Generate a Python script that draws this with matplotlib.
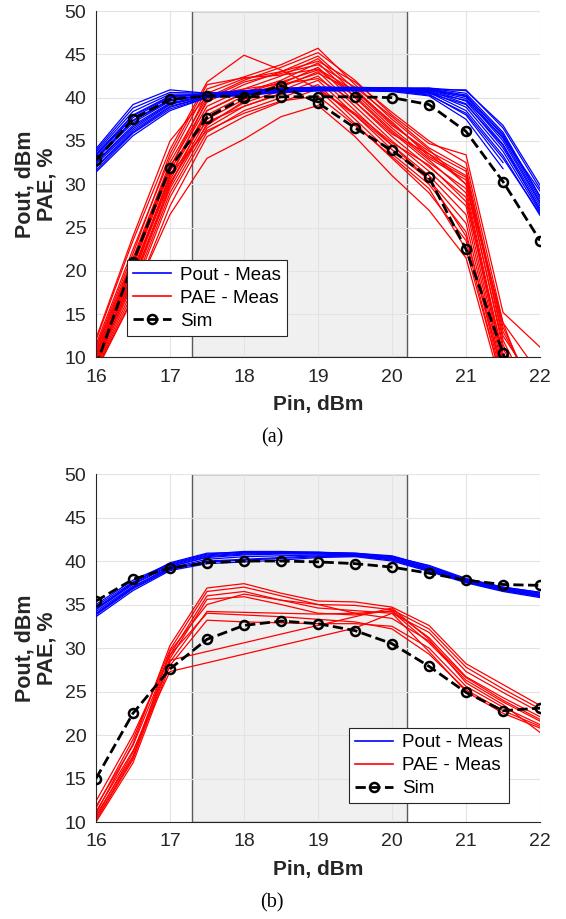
import numpy as np
import matplotlib.pyplot as plt
from matplotlib.lines import Line2D

plt.rcParams['font.family'] = ['Liberation Sans', 'DejaVu Sans']

nan = float('nan')
pin_dbm = [16, 16.5, 17, 17.5, 18, 18.5, 19, 19.5, 20, 20.5, 21, 21.5, 22]
band = (17.3, 20.2)

# ---- panel (a) ----
pout_sim_a = [32.8, 37.5, 39.8, 40.2, 40.1, 40.1, 40.1, 40.1, 40.0, 39.2, 36.1, 30.3, 23.5]
pae_sim_a = [9.0, 21.0, 31.9, 37.7, 40.0, 41.4, 39.4, 36.5, 33.9, 30.8, 22.5, 10.5, -2.0]

pout_meas_a = [
    [31.4, 35.6, 38.5, 40.0, 40.3, 40.6, 40.8, 40.8, 40.7, 40.2, 37.5, 31.8, nan],
    [31.9, 36.0, 38.9, 40.1, 40.4, 40.7, 40.9, 40.9, 40.8, 40.4, 38.0, 32.5, nan],
    [32.3, 36.4, 39.2, 40.2, 40.5, 40.8, 41.0, 40.9, 40.9, 40.6, 38.5, 33.3, 26.4],
    [32.6, 36.8, 39.4, 40.2, 40.5, 40.8, 41.0, 41.0, 40.9, 40.7, 38.9, 33.8, 26.8],
    [32.9, 37.1, 39.6, 40.3, 40.6, 40.9, 41.0, 41.0, 41.0, 40.8, 39.3, 34.2, 27.2],
    [33.1, 37.4, 39.8, 40.3, 40.6, 40.9, 41.1, 41.0, 41.0, 40.9, 39.6, 34.6, 27.5],
    [33.3, 37.7, 40.0, 40.4, 40.7, 41.0, 41.1, 41.1, 41.0, 40.9, 39.9, 35.0, 27.8],
    [33.5, 38.0, 40.2, 40.4, 40.7, 41.0, 41.1, 41.1, 41.1, 41.0, 40.1, 35.3, 28.0],
    [33.7, 38.4, 40.4, 40.4, 40.7, 41.0, 41.2, 41.1, 41.1, 41.0, 40.3, 35.6, 28.3],
    [33.9, 38.8, 40.6, 40.5, 40.8, 41.0, 41.2, 41.1, 41.1, 41.1, 40.5, 36.0, 28.6],
    [34.1, 39.2, 40.9, 40.5, 40.8, 41.1, 41.2, 41.2, 41.1, 41.1, 40.8, 36.8, 29.9],
    [32.0, 36.2, 39.0, 40.1, 40.4, 40.7, 40.9, 40.9, 40.9, 40.5, 39.2, 34.5, 27.0],
    [33.0, 37.3, 39.7, 40.3, 40.6, 40.9, 41.0, 41.0, 41.0, 40.8, 40.2, 35.8, 28.6],
    [32.5, 36.6, 39.3, 40.2, 40.5, 40.8, 41.0, 41.0, 40.9, 40.6, 39.7, 35.4, 29.2],
    [33.4, 37.9, 40.1, 40.4, 40.7, 41.0, 41.1, 41.1, 41.1, 40.9, 40.9, 36.5, 29.5],
    [31.6, 35.9, 38.7, 40.0, 40.3, 40.6, 40.8, 40.8, 40.8, 40.3, 38.2, 33.0, 26.6],
]

pae_meas_a = [
    [8.5, 17.0, 26.5, 33.0, 35.2, 37.8, 39.1, 35.5, 31.0, 27.0, 21.5, 6.0, -4.0],
    [12.0, 23.5, 34.0, 41.8, 44.9, 43.2, 41.0, 38.0, 34.5, 30.5, 24.0, 8.0, -2.0],
    [11.5, 22.5, 33.0, 41.0, 42.4, 43.8, 45.7, 41.5, 37.5, 34.0, 30.0, 14.0, 3.0],
    [11.0, 21.5, 32.5, 40.0, 42.0, 43.5, 45.2, 42.0, 38.0, 34.7, 33.4, 15.2, 11.2],
    [10.5, 21.0, 32.0, 39.5, 41.5, 43.0, 44.8, 41.0, 37.0, 33.5, 31.0, 12.5, 6.0],
    [10.0, 20.5, 31.5, 39.0, 41.0, 42.5, 44.5, 40.5, 36.5, 33.0, 30.5, 11.0, 4.0],
    [9.8, 20.0, 31.0, 38.5, 40.6, 42.0, 44.0, 40.0, 36.0, 32.5, 29.5, 10.0, 1.0],
    [9.5, 19.5, 30.5, 38.0, 40.2, 41.6, 43.5, 39.5, 35.5, 32.0, 28.5, 9.0, 0.0],
    [9.2, 19.0, 30.0, 37.5, 39.8, 41.2, 43.0, 39.0, 35.0, 31.5, 27.5, 8.5, 2.0],
    [9.0, 18.5, 29.5, 37.0, 39.4, 40.8, 42.5, 38.5, 34.5, 31.0, 26.5, 8.0, -1.0],
    [8.8, 18.0, 29.0, 36.5, 39.0, 40.4, 42.0, 38.0, 34.0, 30.5, 25.5, 7.5, -3.0],
    [8.6, 17.5, 28.5, 36.0, 38.5, 40.0, 41.5, 37.5, 33.5, 30.0, 24.5, 7.0, -2.0],
    [10.2, 20.8, 31.8, 40.5, 42.2, 43.0, 44.2, 41.8, 38.3, 35.0, 32.5, 14.0, 8.0],
    [9.6, 19.8, 30.8, 39.8, 41.8, 42.8, 43.8, 41.2, 37.8, 34.2, 31.8, 13.0, 5.0],
    [11.2, 22.0, 33.5, 41.5, 42.3, 42.6, 43.3, 40.8, 36.8, 33.8, 31.5, 12.0, 3.5],
    [12.2, 24.0, 35.0, 40.2, 41.0, 41.6, 42.2, 39.5, 35.8, 33.5, 30.0, 11.5, 2.5],
    [8.4, 16.8, 27.5, 35.5, 37.8, 39.5, 41.0, 37.0, 33.0, 29.0, 23.5, 6.5, -3.5],
    [9.4, 18.8, 29.8, 38.5, 40.5, 41.8, 43.2, 40.2, 36.2, 32.8, 29.0, 9.5, 1.5],
    [10.8, 21.2, 32.2, 37.2, 39.0, 40.5, 41.0, 38.2, 34.8, 32.2, 28.0, 10.5, 2.8],
    [9.7, 19.2, 31.2, 36.2, 38.2, 39.6, 40.2, 36.8, 33.2, 29.5, 22.5, 6.8, -1.5],
    [10.4, 20.2, 30.2, 36.8, 39.6, 41.4, 42.8, 40.8, 37.2, 33.2, 30.8, 13.5, 4.5],
]

# ---- panel (b) ----
pout_sim_b = [35.4, 37.9, 39.2, 39.8, 40.0, 40.0, 39.9, 39.7, 39.3, 38.6, 37.8, 37.3, 37.2]
pae_sim_b = [15.0, 22.5, 27.6, 31.0, 32.6, 33.1, 32.8, 32.0, 30.5, 27.9, 24.9, 22.8, 23.1]

pout_meas_b = [
    [33.6, 36.6, 38.9, 39.7, 39.9, 40.1, 40.4, 40.5, 40.0, 38.8, 37.5, 36.5, 35.8],
    [33.9, 36.9, 39.1, 40.0, 40.2, 40.4, 40.6, 40.6, 40.1, 38.9, 37.6, 36.6, 35.9],
    [34.2, 37.1, 39.2, 40.2, 40.5, 40.6, 40.7, 40.6, 40.2, 39.0, 37.6, 36.7, 36.0],
    [34.4, 37.3, 39.4, 40.4, 40.7, 40.8, 40.8, 40.7, 40.3, 39.1, 37.7, 36.8, 36.1],
    [34.6, 37.4, 39.5, 40.6, 40.9, 40.9, 40.9, 40.8, 40.4, 39.2, 37.8, 36.9, 36.2],
    [34.8, 37.6, 39.6, 40.7, 41.0, 41.0, 41.0, 40.8, 40.5, 39.3, 37.8, 36.9, 36.3],
    [35.0, 37.8, 39.7, 40.8, 41.1, 41.1, 41.0, 40.9, 40.6, 39.4, 37.9, 37.0, 36.4],
    [34.0, 37.0, 39.3, 40.5, 40.8, 40.9, 40.9, 40.8, 40.3, 39.0, 37.6, 36.6, 36.0],
    [34.5, 37.5, 39.8, 40.9, 41.0, 41.0, 41.0, 40.9, 40.5, 39.5, 38.0, 37.0, 36.4],
    [33.8, 36.8, 39.0, 39.9, 40.1, 40.3, 40.5, 40.6, 40.2, 39.0, 37.7, 36.8, 36.1],
]

pae_meas_b = [
    [11.0, 19.0, 30.3, 36.9, 37.4, 36.3, 35.4, 35.3, 34.7, 32.6, 28.2, 25.8, 23.4],
    [11.6, 19.5, 29.8, 36.5, 37.0, 36.0, 35.0, 34.9, 34.4, 32.2, 27.8, 25.3, 23.0],
    [12.4, 20.0, 29.2, 36.0, 36.5, 35.5, 34.6, 34.3, 34.0, 31.8, 27.3, 24.9, 22.6],
    [10.6, 18.0, 28.8, 35.6, 35.9, 35.0, 34.0, 33.8, 34.3, 31.2, 26.7, 24.3, 22.1],
    [10.2, 17.2, 28.4, 34.2, 34.1, 34.0, 33.9, 34.0, 34.2, 30.6, 26.3, 23.8, 21.6],
    [10.0, 16.8, 28.0, 33.2, 33.0, 32.9, 32.8, 32.8, 32.5, 30.0, 25.6, 23.2, 21.2],
    [11.2, 18.2, 27.3, nan, nan, nan, nan, 32.3, 34.0, 29.6, 25.0, 22.5, 20.8],
    [10.8, 17.6, 28.6, nan, nan, nan, nan, nan, 34.6, 31.0, 26.0, 23.5, 20.3],
    [11.8, 18.8, 29.2, 34.0, 33.8, 33.6, 33.3, 33.0, 32.2, 29.3, 25.2, 22.8, 21.0],
    [10.4, 17.4, 29.6, 35.0, 36.2, 35.5, 35.0, 34.0, 33.4, 30.8, 26.6, 24.0, 21.8],
]


def draw_panel(ax, pout_meas, pae_meas, pout_sim, pae_sim, leg_anchor, caption):
    x = np.array(pin_dbm, dtype=float)
    ax.axvspan(band[0], band[1], facecolor='#f0f0f0', edgecolor='#5a5a5a',
               lw=1.0, zorder=0.3)

    # measured curves, red under blue
    for curve in pae_meas:
        y = np.array(curve, dtype=float)
        ok = ~np.isnan(y)
        ax.plot(x[ok], y[ok], color='red', lw=0.9, zorder=2)
    for curve in pout_meas:
        y = np.array(curve, dtype=float)
        ok = ~np.isnan(y)
        ax.plot(x[ok], y[ok], color='blue', lw=0.9, zorder=3)

    for sim in (pout_sim, pae_sim):
        ax.plot(x, sim, color='black', ls='--', lw=2.0, marker='o', ms=6.5,
                mfc='none', mew=1.8, zorder=4)

    ax.set_xlim(16, 22)
    ax.set_ylim(10, 50)
    ax.set_xticks(range(16, 23))
    ax.set_yticks(range(10, 51, 5))
    ax.set_axisbelow(True)
    ax.grid(True, color='#e3e3e3', lw=0.8)
    ax.tick_params(length=0, labelsize=14, colors='#262626', pad=7)
    ax.tick_params(axis='x', pad=8)
    for s in ('top', 'right'):
        ax.spines[s].set_visible(False)
    for s in ('left', 'bottom'):
        ax.spines[s].set_color('#262626')
        ax.spines[s].set_linewidth(0.8)

    ax.text(-0.135, 0.5, 'Pout, dBm\nPAE, %', transform=ax.transAxes,
            rotation=90, ha='center', va='center', fontsize=15.5,
            fontweight='bold', color='#262626', linespacing=1.1)
    ax.text(0.5, -0.135, 'Pin, dBm', transform=ax.transAxes, ha='center',
            va='center', fontsize=15, fontweight='bold', color='#262626')
    ax.text(0.397, -0.232, caption, transform=ax.transAxes, ha='center',
            va='center', fontsize=14.5, family='Liberation Serif')

    handles = [
        Line2D([], [], color='blue', lw=1.2),
        Line2D([], [], color='red', lw=1.2),
        Line2D([], [], color='black', ls='--', lw=2.0, marker='o', ms=6.5,
               mfc='none', mew=1.8),
    ]
    leg = ax.legend(handles, ['Pout - Meas', 'PAE - Meas', 'Sim'],
                    loc='upper left', bbox_to_anchor=leg_anchor,
                    borderaxespad=0, fontsize=13.5, fancybox=False,
                    framealpha=1, edgecolor='#262626', handlelength=2.0,
                    labelspacing=0.32, handletextpad=0.5, borderpad=0.32)
    leg.get_frame().set_linewidth(0.8)
    leg.set_zorder(10)


fig = plt.figure(figsize=(5.66, 9.19), dpi=100)
ax_a = fig.add_axes([0.1696, 0.611, 0.7845, 0.377])
ax_b = fig.add_axes([0.1696, 0.1055, 0.7845, 0.3787])

draw_panel(ax_a, pout_meas_a, pae_meas_a, pout_sim_a, pae_sim_a, (0.070, 0.28), '(a)')
draw_panel(ax_b, pout_meas_b, pae_meas_b, pout_sim_b, pae_sim_b, (0.570, 0.27), '(b)')

fig.savefig('out.png', dpi=100)
